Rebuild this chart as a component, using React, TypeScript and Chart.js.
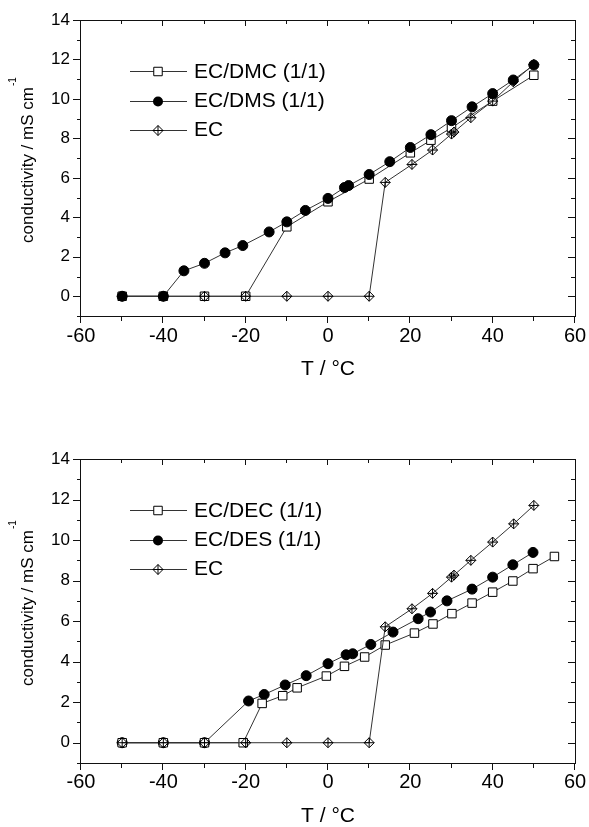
import React, { useEffect, useRef } from "react";
import { Chart, registerables } from "chart.js";

Chart.register(...registerables);

// ---------- shared axis text / ticks ----------
const xTickValues = [-60, -40, -20, 0, 20, 40, 60];
const yTickValues = [0, 2, 4, 6, 8, 10, 12, 14];
const xMin = -60;
const xMax = 60;
const yMin = -1;
const yMax = 14;
const xMinorStep = 10;
const yMinorStep = 1;
const xTitle = "T / °C";
const yTitle = "conductivity / mS cm";
const yTitleSup = "-1";

// ---------- top panel ----------
const dmcLabel = "EC/DMC (1/1)";
const dmcT = [-50, -40, -30, -20, -10, 0, 10, 20, 25, 30, 40, 50];
const dmcS = [0, 0, 0, 0, 3.52, 4.79, 5.94, 7.27, 7.91, 8.54, 9.89, 11.2];

const dmsLabel = "EC/DMS (1/1)";
const dmsT = [-50, -40, -35, -30, -25, -20.7, -14.3, -10, -5.5, 0, 4, 5, 10, 15, 20, 25, 30, 35, 40, 45, 50];
const dmsS = [0, 0, 1.29, 1.67, 2.2, 2.57, 3.26, 3.77, 4.35, 4.96, 5.51, 5.61, 6.17, 6.82, 7.54, 8.19, 8.9, 9.6, 10.27, 10.96, 11.72];

const ecLabel = "EC";
const ecT = [-50, -40, -30, -20, -10, 0, 10, 13.9, 20.4, 25.4, 30, 30.6, 34.7, 40, 45, 50];
const ecS = [0, 0, 0, 0, 0, 0, 0, 5.77, 6.68, 7.41, 8.22, 8.32, 9.05, 9.89, 10.87, 11.75];

// ---------- bottom panel ----------
const decLabel = "EC/DEC (1/1)";
const decT = [-50, -40, -30, -20.6, -16, -11, -7.5, -0.4, 4, 8.9, 13.9, 21, 25.5, 30.1, 35, 40, 44.9, 49.8, 55];
const decS = [0, 0, 0, 0, 1.94, 2.32, 2.71, 3.29, 3.77, 4.23, 4.82, 5.41, 5.86, 6.37, 6.89, 7.43, 7.98, 8.59, 9.19];

const desLabel = "EC/DES (1/1)";
const desT = [-50, -40, -30, -19.3, -15.5, -10.4, -5.3, 0, 4.4, 6, 10.4, 15.8, 21.9, 24.9, 28.9, 35, 40, 44.9, 49.8];
const desS = [0, 0, 0, 2.06, 2.38, 2.85, 3.31, 3.9, 4.34, 4.39, 4.85, 5.46, 6.12, 6.45, 7.0, 7.58, 8.17, 8.78, 9.39];

const ec2Label = "EC";
const ec2T = [-50, -40, -30, -20, -10, 0, 10, 13.9, 20.4, 25.4, 30, 30.6, 34.7, 40, 45.1, 50];
const ec2S = [0, 0, 0, 0, 0, 0, 0, 5.72, 6.61, 7.37, 8.17, 8.27, 9.0, 9.9, 10.8, 11.71];

const FONT = '"Liberation Sans", Arial, Helvetica, sans-serif';
const LINE_COLOR = "#333";
const DIAMOND_R = 5;

type Kind = "square" | "circle" | "diamond";

function makeDataset(label: string, xs: number[], ys: number[], kind: Kind, order: number) {
  const base: any = {
    label,
    data: xs.map((x, i) => ({ x, y: ys[i] })),
    showLine: true,
    borderColor: LINE_COLOR,
    borderWidth: 1,
    tension: 0,
    order,
    pointBorderColor: "#000",
    pointBorderWidth: 1,
    pointHoverRadius: 0,
  };
  if (kind === "square") {
    base.pointStyle = "rect";
    base.pointRadius = 6;
    base.pointBackgroundColor = "#fff";
  } else if (kind === "circle") {
    base.pointStyle = "circle";
    base.pointRadius = 5;
    base.pointBackgroundColor = "#000";
  } else {
    base.pointStyle = "rectRot";
    base.pointRadius = DIAMOND_R;
    base.pointBackgroundColor = "rgba(0,0,0,0)";
  }
  return base;
}

interface PanelSpec {
  height: number;
  padTop: number;
  xAxisHeight: number;
  xTickPad: number;
  series: { label: string; xs: number[]; ys: number[]; kind: Kind; order: number }[];
}

function drawCross(ctx: CanvasRenderingContext2D, x: number, y: number, r: number) {
  ctx.beginPath();
  ctx.moveTo(x, y - r);
  ctx.lineTo(x, y + r);
  ctx.moveTo(x - r, y);
  ctx.lineTo(x + r, y);
  ctx.stroke();
}

function drawLegendMarker(ctx: CanvasRenderingContext2D, kind: Kind, x: number, y: number) {
  ctx.save();
  ctx.lineWidth = 1;
  ctx.strokeStyle = "#000";
  if (kind === "square") {
    const s = 6 * Math.SQRT1_2;
    ctx.fillStyle = "#fff";
    ctx.beginPath();
    ctx.rect(x - s, y - s, 2 * s, 2 * s);
    ctx.fill();
    ctx.stroke();
  } else if (kind === "circle") {
    ctx.fillStyle = "#000";
    ctx.beginPath();
    ctx.arc(x, y, 5, 0, Math.PI * 2);
    ctx.fill();
  } else {
    const r = DIAMOND_R;
    ctx.fillStyle = "#fff";
    ctx.beginPath();
    ctx.moveTo(x, y - r);
    ctx.lineTo(x + r, y);
    ctx.lineTo(x, y + r);
    ctx.lineTo(x - r, y);
    ctx.closePath();
    ctx.fill();
    ctx.stroke();
    drawCross(ctx, x, y, r);
  }
  ctx.restore();
}

function makeDecor(spec: PanelSpec) {
  return {
    id: "decor",
    afterDatasetsDraw(chart: any) {
      // crosses inside the EC diamonds, at the library's point positions
      const ctx: CanvasRenderingContext2D = chart.ctx;
      ctx.save();
      ctx.strokeStyle = "#000";
      ctx.lineWidth = 1;
      spec.series.forEach((s, i) => {
        if (s.kind !== "diamond") return;
        const meta = chart.getDatasetMeta(i);
        meta.data.forEach((el: any) => drawCross(ctx, el.x, el.y, DIAMOND_R));
      });
      ctx.restore();
    },
    afterDraw(chart: any) {
      const ctx: CanvasRenderingContext2D = chart.ctx;
      const { left, right, top, bottom } = chart.chartArea;
      const xs = chart.scales.x;
      const ys = chart.scales.y;
      ctx.save();
      ctx.strokeStyle = "#111";
      ctx.lineWidth = 1;
      // frame
      ctx.strokeRect(Math.round(left) - 0.5, Math.round(top) + 0.5, Math.round(right - left) + 1, Math.round(bottom - top));
      // ticks
      ctx.beginPath();
      for (let v = xMin; v <= xMax; v += xMinorStep) {
        const px = Math.round(xs.getPixelForValue(v)) - 0.5;
        const major = v % 20 === 0;
        ctx.moveTo(px, bottom);
        ctx.lineTo(px, bottom + (major ? 7 : 5));
        if (v !== xMin && v !== xMax) {
          ctx.moveTo(px, top);
          ctx.lineTo(px, top + (major ? 6 : 4));
        }
      }
      for (let v = yMin; v <= yMax; v += yMinorStep) {
        const py = Math.round(ys.getPixelForValue(v)) + 0.5;
        const major = v >= 0 && v % 2 === 0;
        ctx.moveTo(left, py);
        ctx.lineTo(left - (major ? 8 : 4), py);
        if (v !== yMin && v !== yMax) {
          ctx.moveTo(right, py);
          ctx.lineTo(right - (major ? 7 : 4), py);
        }
      }
      ctx.stroke();

      // x title
      ctx.fillStyle = "#000";
      ctx.font = `21px ${FONT}`;
      ctx.textAlign = "center";
      ctx.textBaseline = "middle";
      ctx.fillText(xTitle, (left + right) / 2, bottom + 53);

      // y title (rotated) with superscript
      ctx.save();
      const cy = (top + bottom) / 2 - 3;
      ctx.translate(33, cy);
      ctx.rotate(-Math.PI / 2);
      ctx.font = `17px ${FONT}`;
      const wMain = ctx.measureText(yTitle).width;
      ctx.textAlign = "left";
      ctx.textBaseline = "alphabetic";
      ctx.fillText(yTitle, -wMain / 2, 0);
      ctx.font = `10px ${FONT}`;
      ctx.fillText(yTitleSup, wMain / 2 + 1, -17);
      ctx.restore();

      // legend
      const rows = [51, 80.5, 109.5];
      spec.series.forEach((s, i) => {
        const yy = top + rows[i];
        ctx.strokeStyle = LINE_COLOR;
        ctx.lineWidth = 1;
        ctx.beginPath();
        ctx.moveTo(left + 49, Math.round(yy) + 0.5);
        ctx.lineTo(left + 106, Math.round(yy) + 0.5);
        ctx.stroke();
        drawLegendMarker(ctx, s.kind, left + 77, Math.round(yy) + 0.5);
        ctx.fillStyle = "#000";
        ctx.font = `21px ${FONT}`;
        ctx.textAlign = "left";
        ctx.textBaseline = "middle";
        ctx.fillText(s.label, left + 113, yy + 1);
      });
      ctx.restore();
    },
  };
}

function Panel({ spec }: { spec: PanelSpec }) {
  const ref = useRef<HTMLCanvasElement | null>(null);
  useEffect(() => {
    if (!ref.current) return;
    const datasets = spec.series.map((s) => makeDataset(s.label, s.xs, s.ys, s.kind, s.order));
    const chart = new Chart(ref.current, {
      type: "scatter",
      data: { datasets },
      options: {
        animation: false,
        responsive: false,
        maintainAspectRatio: false,
        events: [],
        layout: { padding: { top: spec.padTop, right: 14, left: 0, bottom: 0 } },
        plugins: { legend: { display: false }, tooltip: { enabled: false } },
        scales: {
          x: {
            type: "linear",
            min: xMin,
            max: xMax,
            afterBuildTicks: (s: any) => {
              s.ticks = xTickValues.map((v) => ({ value: v }));
            },
            afterFit: (s: any) => {
              s.height = spec.xAxisHeight;
              s.paddingLeft = 0;
              s.paddingRight = 0;
            },
            grid: { display: true, drawOnChartArea: false, drawTicks: false },
            border: { display: false },
            ticks: {
              padding: spec.xTickPad,
              color: "#000",
              maxRotation: 0,
              autoSkip: false,
              font: { size: 20, family: FONT },
            },
          },
          y: {
            type: "linear",
            min: yMin,
            max: yMax,
            afterBuildTicks: (s: any) => {
              s.ticks = yTickValues.map((v) => ({ value: v }));
            },
            afterFit: (s: any) => {
              s.width = 81;
              s.paddingTop = 0;
              s.paddingBottom = 0;
            },
            grid: { display: true, drawOnChartArea: false, drawTicks: false },
            border: { display: false },
            ticks: {
              padding: 11,
              color: "#000",
              autoSkip: false,
              font: { size: 17, family: FONT },
            },
          },
        },
      } as any,
      plugins: [makeDecor(spec)],
    });
    return () => chart.destroy();
  }, [spec]);
  return <canvas ref={ref} width={589} height={spec.height} style={{ display: "block", width: 589, height: spec.height }} />;
}

const topSpec: PanelSpec = {
  height: 414,
  padTop: 20,
  xAxisHeight: 98,
  xTickPad: 8,
  series: [
    { label: dmcLabel, xs: dmcT, ys: dmcS, kind: "square", order: 3 },
    { label: dmsLabel, xs: dmsT, ys: dmsS, kind: "circle", order: 1 },
    { label: ecLabel, xs: ecT, ys: ecS, kind: "diamond", order: 2 },
  ],
};

const bottomSpec: PanelSpec = {
  height: 413,
  padTop: 45,
  xAxisHeight: 64,
  xTickPad: 7,
  series: [
    { label: decLabel, xs: decT, ys: decS, kind: "square", order: 2 },
    { label: desLabel, xs: desT, ys: desS, kind: "circle", order: 3 },
    { label: ec2Label, xs: ec2T, ys: ec2S, kind: "diamond", order: 1 },
  ],
};

export default function App() {
  return (
    <div style={{ position: "absolute", left: 0, top: 0, width: 589, height: 827, background: "#fff" }}>
      <Panel spec={topSpec} />
      <Panel spec={bottomSpec} />
    </div>
  );
}
